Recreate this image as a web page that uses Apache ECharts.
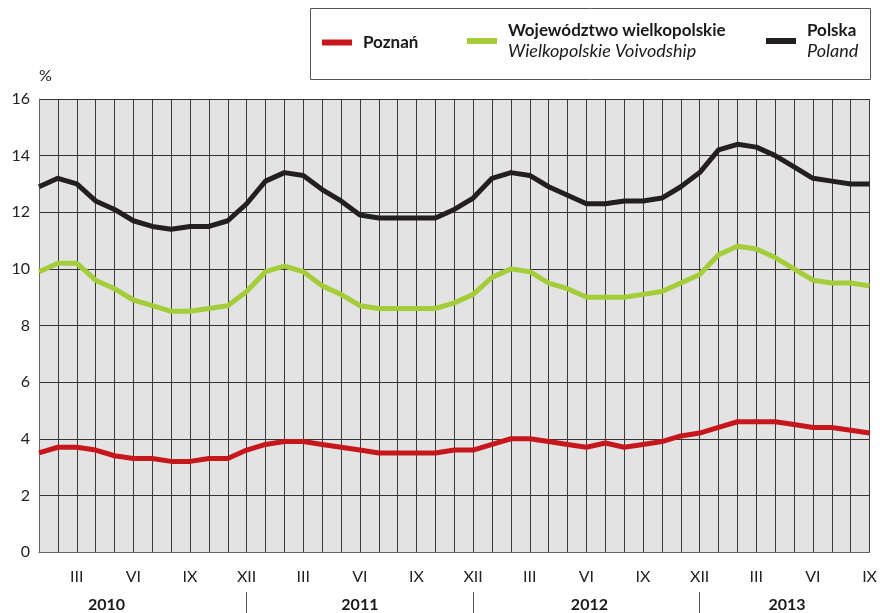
<!DOCTYPE html>
<html>
<head>
<meta charset="utf-8">
<script src="https://cdn.jsdelivr.net/npm/echarts@6/dist/echarts.min.js"></script>
<style>
  html, body { margin: 0; padding: 0; background: #ffffff; }
  #chart { width: 880px; height: 613px; }
</style>
</head>
<body>
<div id="chart"></div>
<script>
// Miesiące I.2010 – IX.2013
const romanMonths = ['I', 'II', 'III', 'IV', 'V', 'VI', 'VII', 'VIII', 'IX', 'X', 'XI', 'XII'];
const years = ['2010', '2011', '2012', '2013'];
const monthCount = 45;

const namesPl = ['Poznań', 'Województwo wielkopolskie', 'Polska'];
const namesEn = ['', 'Wielkopolskie Voivodship', 'Poland'];
const colors = ['#c8161d', '#a5cd39', '#231f20'];

// Stopa bezrobocia, %
const poznan = [
    3.5, 3.7, 3.7, 3.6, 3.4, 3.3, 3.3, 3.2, 3.2, 3.3, 3.3, 3.6,
    3.8, 3.9, 3.9, 3.8, 3.7, 3.6, 3.5, 3.5, 3.5, 3.5, 3.6, 3.6,
    3.8, 4.0, 4.0, 3.9, 3.8, 3.7, 3.85, 3.7, 3.8, 3.9, 4.1, 4.2,
    4.4, 4.6, 4.6, 4.6, 4.5, 4.4, 4.4, 4.3, 4.2
];
const wielkopolskie = [
    9.9, 10.2, 10.2, 9.6, 9.3, 8.9, 8.7, 8.5, 8.5, 8.6, 8.7, 9.2,
    9.9, 10.1, 9.9, 9.4, 9.1, 8.7, 8.6, 8.6, 8.6, 8.6, 8.8, 9.1,
    9.7, 10.0, 9.9, 9.5, 9.3, 9.0, 9.0, 9.0, 9.1, 9.2, 9.5, 9.8,
    10.5, 10.8, 10.7, 10.4, 10.0, 9.6, 9.5, 9.5, 9.4
];
const polska = [
    12.9, 13.2, 13.0, 12.4, 12.1, 11.7, 11.5, 11.4, 11.5, 11.5, 11.7, 12.3,
    13.1, 13.4, 13.3, 12.8, 12.4, 11.9, 11.8, 11.8, 11.8, 11.8, 12.1, 12.5,
    13.2, 13.4, 13.3, 12.9, 12.6, 12.3, 12.3, 12.4, 12.4, 12.5, 12.9, 13.4,
    14.2, 14.4, 14.3, 14.0, 13.6, 13.2, 13.1, 13.0, 13.0
];
const seriesData = [poznan, wielkopolskie, polska];

// indeksy podpisów lat i kresek oddzielających lata
const yearLabelIdx = [4, 17, 29, 40];
const yearEndIdx = [11, 23, 35];

const categories = [];
for (let i = 0; i < monthCount; i++) {
    categories.push(romanMonths[i % 12]);
}

const font = 'Lato, "Open Sans", sans-serif';
const chart = echarts.init(document.getElementById('chart'));

const legendLeft = [322, 467, 766];

const yearStyle = { fontFamily: font, fontWeight: 'bold', fontSize: 16, color: '#1a1a1a' };

chart.setOption({
    backgroundColor: '#ffffff',
    textStyle: { fontFamily: font },
    animation: false,
    graphic: [{
        type: 'rect',
        shape: { x: 310.5, y: 8.5, width: 560, height: 71 },
        style: { fill: '#ffffff', stroke: '#555555', lineWidth: 1 },
        z: -1
    }],
    legend: namesPl.map((name, i) => ({
        data: [name],
        left: legendLeft[i],
        top: i === 0 ? 34 : 22,
        padding: 0,
        icon: 'rect',
        itemWidth: 30,
        itemHeight: 6,
        itemGap: 0,
        selectedMode: false,
        formatter: n => namesEn[i]
            ? '{b|' + n + '}\n{i|' + namesEn[i] + '}'
            : '{b|' + n + '}',
        textStyle: {
            padding: [0, 0, 0, 6],
            rich: {
                b: { fontFamily: font, fontWeight: 'bold', fontSize: 17, color: '#1a1a1a', lineHeight: 21 },
                i: { fontFamily: font, fontStyle: 'italic', fontSize: 18, color: '#1a1a1a', lineHeight: 21 }
            }
        }
    })),
    grid: {
        left: 39,
        right: 10,
        top: 99,
        bottom: 61,
        show: true,
        backgroundColor: '#e3e3e3',
        borderWidth: 0
    },
    xAxis: [{
        type: 'category',
        data: categories,
        boundaryGap: false,
        axisLine: { show: true, lineStyle: { color: '#666666', width: 1 } },
        axisTick: { show: false },
        axisLabel: {
            interval: idx => idx % 3 === 2,
            margin: 17,
            fontSize: 16,
            color: '#222222',
            fontFamily: font
        },
        splitLine: {
            show: true,
            interval: 0,
            lineStyle: { color: '#3a3a3a', width: 1 }
        }
    }, {
        type: 'category',
        data: categories,
        boundaryGap: false,
        position: 'bottom',
        offset: 40,
        axisLine: { show: false },
        axisTick: {
            show: true,
            interval: idx => yearEndIdx.includes(idx),
            length: 22,
            lineStyle: { color: '#555555', width: 1 }
        },
        axisLabel: {
            interval: idx => yearLabelIdx.includes(idx),
            formatter: (v, idx) => {
                const k = yearLabelIdx.indexOf(idx);
                return k < 0 ? '' : '{y' + k + '|' + years[k] + '}';
            },
            margin: 5,
            rich: {
                y0: Object.assign({ padding: [0, 16, 0, 0] }, yearStyle),
                y1: Object.assign({ padding: [0, 0, 0, 0] }, yearStyle),
                y2: Object.assign({ padding: [0, 0, 0, 6] }, yearStyle),
                y3: Object.assign({ padding: [0, 14, 0, 0] }, yearStyle)
            }
        },
        splitLine: { show: false }
    }],
    yAxis: {
        type: 'value',
        min: 0,
        max: 16,
        interval: 2,
        name: '%',
        nameGap: 15,
        nameTextStyle: { fontSize: 16, color: '#222222', align: 'left', fontFamily: font },
        axisLine: { show: true, lineStyle: { color: '#666666', width: 1 } },
        axisTick: { show: false },
        axisLabel: { margin: 9, fontSize: 16, color: '#222222', fontFamily: font },
        splitLine: { show: true, lineStyle: { color: '#333333', width: 1 } }
    },
    series: namesPl.map((name, i) => ({
        name: name,
        type: 'line',
        data: seriesData[i],
        symbol: 'none',
        color: colors[i],
        lineStyle: { width: 5, color: colors[i], join: 'round' },
        z: 3
    }))
});
</script>
</body>
</html>
